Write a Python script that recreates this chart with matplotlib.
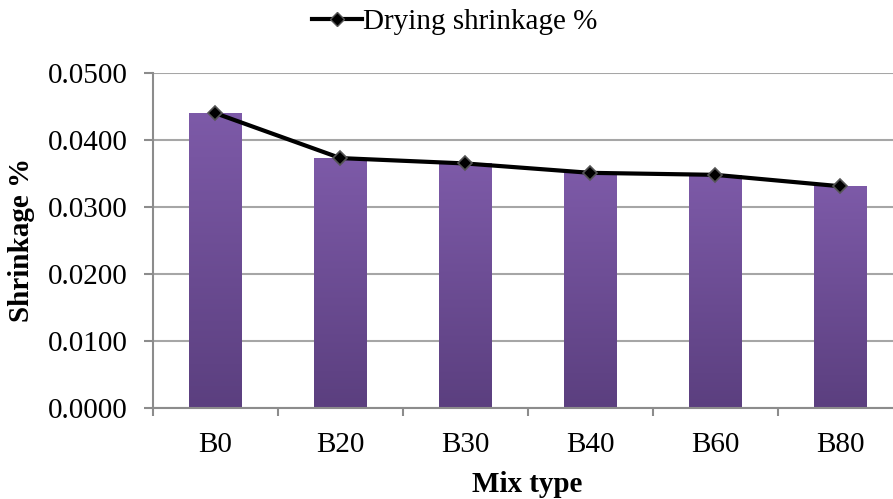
import numpy as np
import matplotlib
matplotlib.use("Agg")
import matplotlib.pyplot as plt
from matplotlib.colors import LinearSegmentedColormap
from matplotlib.lines import Line2D

categories = ["B0", "B20", "B30", "B40", "B60", "B80"]
shrinkage = [0.0440, 0.0373, 0.0365, 0.0351, 0.0348, 0.0331]
yticks = [0.0, 0.01, 0.02, 0.03, 0.04, 0.05]
ytick_labels = ["0.0000", "0.0100", "0.0200", "0.0300", "0.0400", "0.0500"]

plt.rcParams['font.family'] = ['Liberation Serif', 'DejaVu Serif']
FS = 21

fig = plt.figure(figsize=(8.93, 4.99), dpi=100)
ax = fig.add_axes([153/893, (499-408)/499, (902.5-153)/893, (408-73)/499])

x = np.arange(len(categories))
bw = 0.42
bars = ax.bar(x, shrinkage, width=bw, color='none', edgecolor='none', zorder=2)

cmap = LinearSegmentedColormap.from_list("purp", ["#5B3F7F", "#7D5AA8"])
grad = np.linspace(0, 1, 256).reshape(-1, 1)
for b in bars:
    x0, y0 = b.get_x(), b.get_y()
    w, h = b.get_width(), b.get_height()
    im = ax.imshow(grad, cmap=cmap, origin='lower', aspect='auto',
                   extent=[x0, x0 + w, y0, y0 + h], zorder=2)
    im.set_clip_path(b)

ax.plot(x, shrinkage, color='black', lw=3, marker='D', markersize=7.5,
        markerfacecolor='black', markeredgecolor='#555555', markeredgewidth=1.2,
        zorder=4, label="Drying shrinkage %")

ax.set_xlim(-0.5, len(categories) - 0.5)
ax.set_ylim(0, 0.05)
ax.set_yticks(yticks)
ax.set_yticklabels(ytick_labels, fontsize=FS)
ax.set_xticks(x)
ax.set_xticklabels(categories, fontsize=FS)
ax.set_xticks(np.arange(-0.5, len(categories), 1.0), minor=True)
ax.tick_params(axis='x', which='major', length=0, pad=17)
ax.tick_params(axis='x', which='minor', length=6, width=1.5, color='#8C8C8C', direction='out')
ax.tick_params(axis='y', length=6.5, width=1.5, color='#8C8C8C', direction='out', pad=12)

ax.grid(axis='y', color='#A6A6A6', lw=1.5, zorder=0)
ax.set_axisbelow(True)
for s in ['top', 'right']:
    ax.spines[s].set_visible(False)
for s in ['left', 'bottom']:
    ax.spines[s].set_color('#8C8C8C')
    ax.spines[s].set_linewidth(1.5)

fig.text(22/893, 1 - 240/499, "Shrinkage %", fontsize=FS, fontweight='bold',
         rotation=90, ha='center', va='center')
fig.text(527/893, 1 - 485/499, "Mix type", fontsize=FS, fontweight='bold',
         ha='center', va='center')

handle = Line2D([], [], color='black', lw=3, marker='D', markersize=7.5,
                markerfacecolor='black', markeredgecolor='#555555')
fig.legend([handle], ["Drying shrinkage %"], loc='center', bbox_to_anchor=(455/893, 1 - 22/499),
           frameon=False, fontsize=FS, handlelength=1.7, handletextpad=0.05, borderaxespad=0)

fig.savefig("out.png", dpi=100)
